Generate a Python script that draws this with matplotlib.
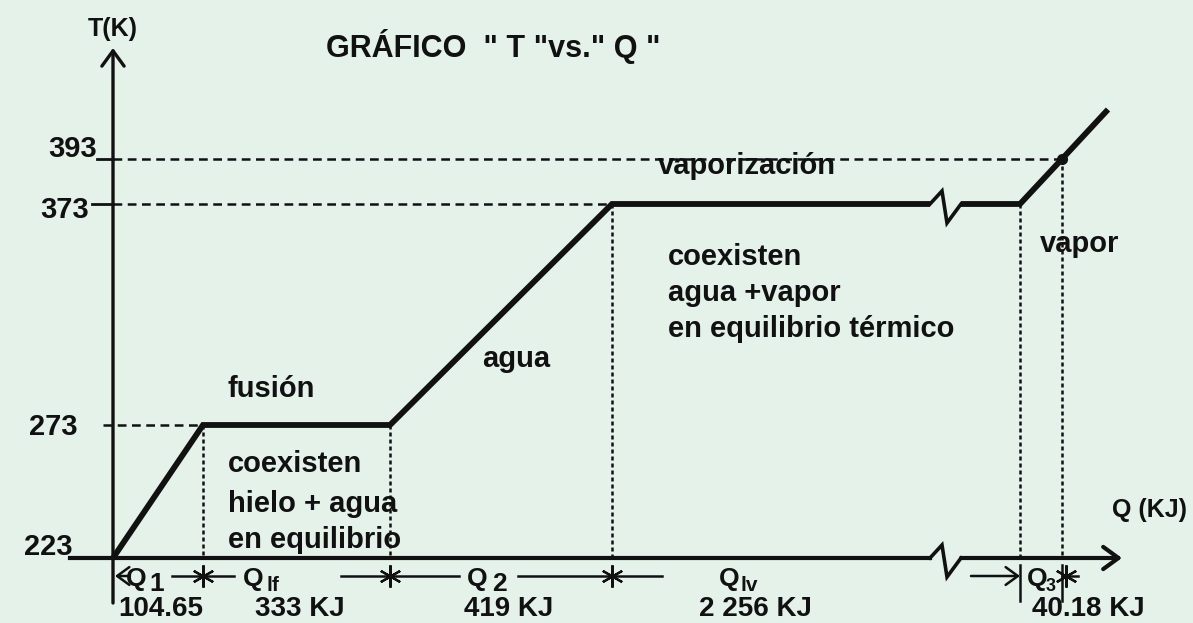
import numpy as np
import matplotlib
matplotlib.use("Agg")
import matplotlib.pyplot as plt

plt.rcParams["font.family"] = ["Liberation Sans", "DejaVu Sans"]
plt.rcParams["font.weight"] = "bold"

# heat for each stage (kJ) and the labels written under the axis
Q_names = ["1", "lf", "2", "lv", "3"]
Q_seg = [104.65, 333, 419, 2256, 40.18]
Q_text = ["104.65", "333 KJ", "419 KJ", "2 256 KJ", "40.18 KJ"]
T_ticks = [223, 273, 373, 393]
# temperature at the end of each stage, last point = continuation of the vapour line
T_curve = [223, 273, 273, 373, 373, 393, 415]
Q_extra = 44

Q_cum = np.concatenate([[0], np.cumsum(Q_seg)])
Q_curve = list(Q_cum) + [Q_cum[-1] + Q_extra]

INK = "#111111"
BG = "#e4f2ea"
FS = 21

# schematic (not to scale) axes: piecewise linear scales, knots in pixels
X_PX = [113, 203, 390, 612, 1020, 1062]
Y_PX = [65, 198, 419, 464]


def pw(v, xs, ys):
    v = np.asarray(v, dtype=float)
    s0 = (ys[1] - ys[0]) / (xs[1] - xs[0])
    s1 = (ys[-1] - ys[-2]) / (xs[-1] - xs[-2])
    return np.where(v < xs[0], ys[0] + (v - xs[0]) * s0,
                    np.where(v > xs[-1], ys[-1] + (v - xs[-1]) * s1,
                             np.interp(v, xs, ys)))


def fx(v):
    return pw(v, Q_cum, X_PX)


def ix(v):
    return pw(v, X_PX, Q_cum)


def fy(v):
    return pw(v, T_ticks, Y_PX)


def iy(v):
    return pw(v, Y_PX, T_ticks)


fig = plt.figure(figsize=(11.93, 6.23), dpi=100, facecolor=BG)
ax = fig.add_axes([0, 0, 1, 1])
ax.set_xscale("function", functions=(fx, ix))
ax.set_yscale("function", functions=(fy, iy))
ax.axis("off")
px = ax.transLimits + ax.transAxes  # pixel coords, y up

ox, oy = float(fx(0)), float(fy(T_ticks[0]))
arrow = dict(arrowstyle="->,head_length=0.55,head_width=0.4", lw=2.4,
             color=INK, shrinkA=0, shrinkB=0, mutation_scale=20)

# axes
ax.annotate("", xy=(ox, 575), xytext=(ox, 20), xycoords=px, textcoords=px,
            arrowprops=arrow)
xb = 946


def zigzag(yc, lw):
    ax.plot([xb - 16, xb - 4, xb + 1, xb + 15], [yc, yc + 13, yc - 19, yc],
            transform=px, color=INK, lw=lw, solid_joinstyle="miter")


ax.plot([70, xb - 16], [oy, oy], transform=px, color=INK, lw=3)
ax.annotate("", xy=(1122, oy), xytext=(xb + 15, oy), xycoords=px,
            textcoords=px, arrowprops=dict(arrow, lw=3))
zigzag(oy, 2.6)

# guide lines
dash = dict(color=INK, lw=1.8, ls=(0, (3.5, 2.2)))
dot = dict(color=INK, lw=1.8, ls=(0, (1.6, 1.2)))
ax.plot([ix(ox - 10), Q_cum[1]], [273, 273], **dash)
ax.plot([0, Q_cum[3]], [373, 373], **dash)
ax.plot([0, Q_cum[5]], [393, 393], **dash)
for i in range(1, 6):
    ax.plot([Q_cum[i], Q_cum[i]], [T_curve[i], T_ticks[0]], **dot)
for t, L in [(393, 16), (373, 21)]:
    ax.plot([ox - L, ox], [float(fy(t))] * 2, transform=px, color=INK, lw=2)

# heating curve with a break on the vaporisation plateau
y373 = float(fy(373))
Q_line = list(Q_cum[:4]) + [float(ix(xb - 16)), np.nan, float(ix(xb + 15))] \
    + list(Q_cum[4:]) + [Q_curve[-1]]
T_line = T_curve[:4] + [373, np.nan, 373] + T_curve[4:]
ax.plot(Q_line, T_line, color=INK, lw=4.2, solid_capstyle="butt",
        solid_joinstyle="miter")
zigzag(y373, 2.6)
ax.plot([Q_cum[5]], [393], "o", color=INK, ms=7)

# y tick labels
tick_off = [(-16, 2), (-24, -14), (-36, -10), (-41, 3)]
for t, (dx, dy) in zip(T_ticks[::-1], tick_off):
    ax.text(ox + dx, float(fy(t)) + dy, str(t), transform=px, ha="right",
            va="baseline", fontsize=FS, color=INK)

ax.text(88, 587, "T(K)", transform=px, fontsize=18, color=INK, va="baseline")
ax.text(326, 566, 'GRÁFICO  " T "vs." Q "', transform=px, fontsize=22,
        color=INK, va="baseline")
ax.text(1112, 106, "Q (KJ)", transform=px, fontsize=18, color=INK,
        va="baseline")

# phase annotations
notes = [
    (658, 449, "vaporización"),
    (668, 358, "coexisten"),
    (668, 322, "agua +vapor"),
    (668, 286, "en equilibrio térmico"),
    (482, 256, "agua"),
    (228, 226, "fusión"),
    (228, 151, "coexisten"),
    (228, 111, "hielo + agua"),
    (228, 75, "en equilibrio"),
    (1040, 371, "vapor"),
]
for x, y, s in notes:
    ax.text(x, y, s, transform=px, fontsize=FS, color=INK, va="baseline")

# dimension row under the axis
yd = 47
ax.annotate("", xy=(115, yd), xytext=(130, yd), xycoords=px, textcoords=px,
            arrowprops=dict(arrow, lw=1.8, mutation_scale=16))
for a, b in [(172, 200), (206, 234), (341, 387), (393, 459), (518, 609),
             (615, 662), (1062, 1078)]:
    ax.plot([a, b], [yd, yd], transform=px, color=INK, lw=1.8)
ax.annotate("", xy=(1020, yd), xytext=(971, yd), xycoords=px, textcoords=px,
            arrowprops=dict(arrow, lw=1.8, mutation_scale=16))
for q in Q_cum[4:6]:
    x = float(fx(q))
    ax.plot([x, x], [22, 58], transform=px, color=INK, lw=1.8)
star_x = [float(fx(q)) for q in Q_cum[1:4]] + [float(fx(Q_cum[5])) + 4]
ax.plot(star_x, [yd] * 4, transform=px, ls="none", marker=(6, 2, 0), ms=16,
        mew=1.6, color=INK)

q_x = [126, 243, 467, 719, 1027]
sub_x = [149, 267, 492, 740, 1046]
sub_fs = [19, 15, 19, 15, 13]
num_x = [161, 300, 509, 755, 1088]
for i in range(5):
    ax.text(q_x[i], 37, "Q", transform=px, fontsize=19, color=INK,
            va="baseline")
    ax.text(sub_x[i], 32, Q_names[i], transform=px, fontsize=sub_fs[i],
            color=INK, va="baseline")
    ax.text(num_x[i], 7, Q_text[i], transform=px, fontsize=20, color=INK,
            ha="center", va="baseline")

ax.set_xlim(float(ix(0)), float(ix(1193)))
ax.set_ylim(float(iy(0)), float(iy(623)))
fig.savefig("out.png", dpi=100, facecolor=BG)
